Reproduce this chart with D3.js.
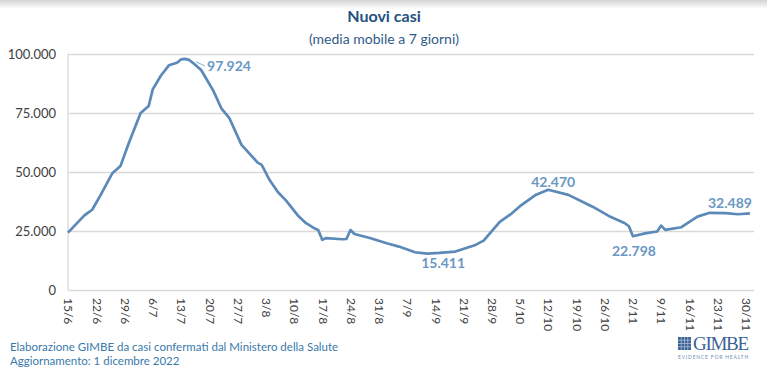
<!DOCTYPE html>
<html>
<head>
<meta charset="utf-8">
<script src="https://cdn.jsdelivr.net/npm/d3@7"></script>
<style>
  body { margin: 0; background: #fff; }
  svg { display: block; font-family: Lato, "Open Sans", sans-serif; }
</style>
</head>
<body>
<div id="chart"></div>
<script>

var width = 767, height = 374;

// dati (media mobile a 7 giorni)
var dates = [
  "2022-06-15", "2022-06-19", "2022-06-20", "2022-06-21", "2022-06-23", "2022-06-26",
  "2022-06-28", "2022-06-30", "2022-07-03", "2022-07-05", "2022-07-06", "2022-07-08",
  "2022-07-10", "2022-07-12", "2022-07-13", "2022-07-14", "2022-07-15", "2022-07-16",
  "2022-07-18", "2022-07-21", "2022-07-23", "2022-07-25", "2022-07-28", "2022-08-01",
  "2022-08-02", "2022-08-04", "2022-08-06", "2022-08-08", "2022-08-11", "2022-08-13",
  "2022-08-15", "2022-08-16", "2022-08-17", "2022-08-18", "2022-08-22", "2022-08-23",
  "2022-08-24", "2022-08-25", "2022-08-29", "2022-09-02", "2022-09-05", "2022-09-09",
  "2022-09-12", "2022-09-15", "2022-09-19", "2022-09-24", "2022-09-26", "2022-09-30",
  "2022-10-03", "2022-10-05", "2022-10-09", "2022-10-12", "2022-10-17", "2022-10-23",
  "2022-10-27", "2022-10-31", "2022-11-01", "2022-11-02", "2022-11-05", "2022-11-08",
  "2022-11-09", "2022-11-10", "2022-11-14", "2022-11-18", "2022-11-21", "2022-11-25",
  "2022-11-28", "2022-12-01"
];
var values = [
  24300, 31500, 32800, 34000, 40000, 49500,
  52500, 62000, 75000, 78000, 85000, 90800,
  95200, 96300, 97700, 97924, 97500, 96200,
  93200, 84500, 77000, 72800, 61500, 54000,
  53000, 46500, 41500, 38000, 31500, 28300,
  26200, 25400, 21300, 22000, 21500, 21600,
  25400, 23700, 21900, 19800, 18400, 16000,
  15411, 15700, 16300, 19100, 20900, 28900,
  32500, 35500, 40400, 42470, 40300, 35300,
  31400, 28300, 27000, 22798, 24000, 24800,
  27300, 25500, 26600, 31100, 32700, 32600,
  32100, 32489
];

var yTicks = [0, 25000, 50000, 75000, 100000];
var xTickStart = "2022-06-15", xTickCount = 25;

// etichette dei valori notevoli
var noteDates = ["2022-07-14", "2022-09-12", "2022-10-12", "2022-11-02", "2022-12-01"];
var noteValues = [97924, 15411, 42470, 22798, 32489];

var parse = d3.timeParse("%Y-%m-%d");
var data = dates.map(function (d, i) { return { date: parse(d), value: values[i] }; });

var margin = { left: 68, right: 13, top: 54, bottom: 84 };
var x = d3.scaleTime()
  .domain([parse(xTickStart), parse("2022-12-02")])
  .range([margin.left, width - margin.right]);
var y = d3.scaleLinear()
  .domain([0, 100000])
  .range([height - margin.bottom, margin.top]);

var fmt = function (v) { return d3.format(",")(v).replace(/,/g, "."); };

var svg = d3.select("#chart").append("svg")
  .attr("width", width)
  .attr("height", height);

// ombra in alto
var grad = svg.append("defs").append("linearGradient")
  .attr("id", "topShade").attr("x1", 0).attr("x2", 0).attr("y1", 0).attr("y2", 1);
grad.append("stop").attr("offset", "0%").attr("stop-color", "#d4d4d4");
grad.append("stop").attr("offset", "100%").attr("stop-color", "#ffffff");
svg.append("rect").attr("width", width).attr("height", 9).attr("fill", "url(#topShade)");

// titolo
svg.append("text")
  .attr("x", 384).attr("y", 22)
  .attr("text-anchor", "middle")
  .attr("font-size", 16).attr("font-weight", "bold")
  .attr("fill", "#24527f")
  .text("Nuovi casi");
svg.append("text")
  .attr("x", 384).attr("y", 44)
  .attr("text-anchor", "middle")
  .attr("font-size", 14)
  .attr("fill", "#2f5b88")
  .text("(media mobile a 7 giorni)");

// griglia orizzontale
svg.append("g")
  .attr("transform", "translate(" + margin.left + ",0)")
  .call(d3.axisLeft(y).tickValues(yTicks).tickSize(-(width - margin.right - margin.left))
    .tickFormat(fmt))
  .call(function (g) {
    g.select(".domain").remove();
    g.selectAll(".tick line").attr("stroke", "#d9d9d9").attr("stroke-width", 1.3);
    g.selectAll(".tick text")
      .attr("x", -12)
      .attr("font-size", 13)
      .attr("font-family", "Lato, 'Open Sans', sans-serif")
      .attr("fill", "#404040");
  });

// asse verticale
svg.append("line")
  .attr("x1", margin.left).attr("x2", margin.left)
  .attr("y1", y(100000)).attr("y2", y(0))
  .attr("stroke", "#d9d9d9").attr("stroke-width", 1.3);

// asse x, un'etichetta a settimana
var xTicks = d3.range(0, xTickCount).map(function (i) { return d3.timeDay.offset(parse(xTickStart), i * 7); });
svg.append("g")
  .attr("transform", "translate(0," + y(0) + ")")
  .call(d3.axisBottom(x).tickValues(xTicks).tickSize(0).tickFormat(d3.timeFormat("%-d/%-m")))
  .call(function (g) {
    g.select(".domain").remove();
    g.selectAll(".tick text")
      .attr("transform", "rotate(90)")
      .attr("text-anchor", "start")
      .attr("x", 8).attr("y", 0).attr("dy", "0.35em")
      .attr("font-size", 12)
      .attr("font-family", "Lato, 'Open Sans', sans-serif")
      .attr("fill", "#404040");
  });

// linea
var line = d3.line()
  .x(function (d) { return x(d.date); })
  .y(function (d) { return y(d.value); });

svg.append("path")
  .datum(data)
  .attr("fill", "none")
  .attr("stroke", "#5b89b8")
  .attr("stroke-width", 2.7)
  .attr("stroke-linejoin", "round")
  .attr("d", line);

// etichette
var offsets = [[22, 12, "start"], [16, 14, "middle"], [5, -3, "middle"], [1, 20, "middle"], [-20, -5, "middle"]];
noteDates.forEach(function (d, i) {
  var px = x(parse(d)), py = y(noteValues[i]);
  var o = offsets[i];
  svg.append("text")
    .attr("x", px + o[0]).attr("y", py + o[1])
    .attr("text-anchor", o[2])
    .attr("font-size", 14).attr("font-weight", "bold")
    .attr("fill", "#6a97c3")
    .text(fmt(noteValues[i]));
});
// trattino verso il picco
svg.append("line")
  .attr("x1", x(parse(noteDates[0])) + 11).attr("y1", y(noteValues[0]) + 3)
  .attr("x2", x(parse(noteDates[0])) + 20).attr("y2", y(noteValues[0]) + 7)
  .attr("stroke", "#8aaed2").attr("stroke-width", 1);

// fonte
svg.append("text")
  .attr("x", 10).attr("y", 351)
  .attr("font-size", 11.5).attr("fill", "#3a7aab")
  .text("Elaborazione GIMBE da casi confermati dal Ministero della Salute");
svg.append("text")
  .attr("x", 10).attr("y", 365)
  .attr("font-size", 11.5).attr("fill", "#3a7aab")
  .text("Aggiornamento: 1 dicembre 2022");

// logo
var logo = svg.append("g").attr("transform", "translate(678,337)");
logo.append("rect").attr("width", 13).attr("height", 13).attr("fill", "#3c6396");
d3.range(1, 4).forEach(function (k) {
  logo.append("line").attr("x1", k * 3.25).attr("x2", k * 3.25).attr("y1", 0).attr("y2", 13)
    .attr("stroke", "#c8d6e8").attr("stroke-width", 0.6);
  logo.append("line").attr("y1", k * 3.25).attr("y2", k * 3.25).attr("x1", 0).attr("x2", 13)
    .attr("stroke", "#c8d6e8").attr("stroke-width", 0.6);
});
logo.append("text")
  .attr("x", 15).attr("y", 13)
  .attr("font-family", "'Liberation Serif', serif")
  .attr("font-size", 19)
  .attr("fill", "#3c6396")
  .attr("textLength", 56)
  .text("GIMBE");
logo.append("text")
  .attr("x", 0).attr("y", 22)
  .attr("font-size", 5).attr("fill", "#6f8fb5")
  .attr("textLength", 71)
  .attr("letter-spacing", 0.8)
  .text("EVIDENCE FOR HEALTH");

</script>
</body>
</html>
